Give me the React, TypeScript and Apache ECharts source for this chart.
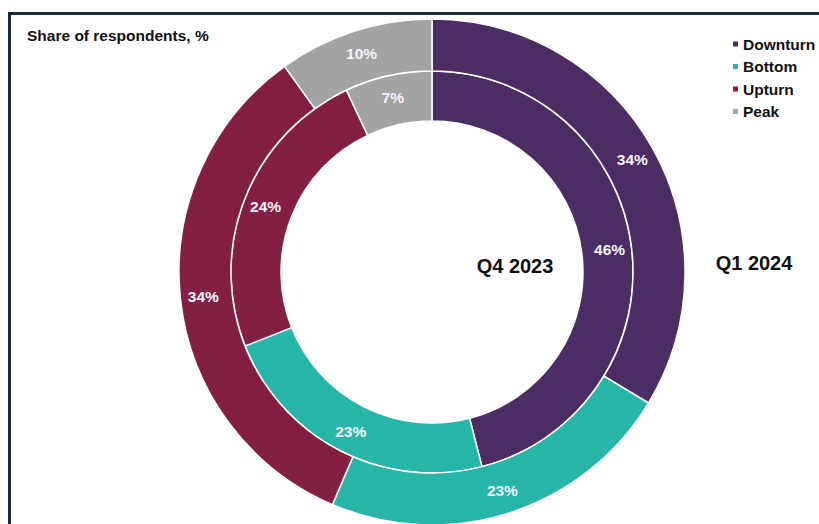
import React, { useEffect, useRef } from "react";
import * as echarts from "echarts";

const categories = ["Downturn", "Bottom", "Upturn", "Peak"];
const colors = ["#4b2d64", "#27b5a8", "#831f43", "#a3a3a3"];
const q4_2023 = [46, 23, 24, 7];
const q1_2024 = [34, 23, 34, 10];
const seriesNames = ["Q4 2023", "Q1 2024"];

const FONT = "'Liberation Sans', Arial, sans-serif";

export default function App() {
  const ref = useRef<HTMLDivElement>(null);
  useEffect(() => {
    if (!ref.current) return;
    const chart = echarts.init(ref.current, null, { renderer: "svg" });
    const mk = (vals: number[]) =>
      categories.map((c, i) => ({
        name: c,
        value: vals[i],
        itemStyle: { color: colors[i] },
      }));
    const label = {
      show: true,
      position: "inside",
      formatter: "{c}%",
      color: "#f4f2fa",
      fontFamily: FONT,
      fontWeight: "bold",
      fontSize: 15.5,
    };
    chart.setOption({
      animation: false,
      legend: {
        orient: "vertical",
        left: 726,
        top: 31,
        icon: "rect",
        itemWidth: 7,
        itemHeight: 7,
        itemGap: 6.5,
        itemWidth: 7,
        data: categories,
        textStyle: { fontFamily: FONT, fontWeight: "bold", fontSize: 15.5, color: "#111", padding: [0, 0, 0, -1] },
      },
      graphic: [
        { type: "rect", shape: { x: 8, y: 12, width: 811, height: 3 }, style: { fill: "#1b2b38" } },
        { type: "rect", shape: { x: 8, y: 12, width: 3, height: 512 }, style: { fill: "#1b2b38" } },
        {
          type: "text",
          left: 27,
          top: 27,
          style: { text: "Share of respondents, %", font: `bold 15.5px ${FONT}`, fill: "#111" },
        },
        {
          type: "text",
          x: 515,
          y: 266,
          style: { text: seriesNames[0], font: `bold 20px ${FONT}`, fill: "#111", align: "center", verticalAlign: "middle" },
        },
        {
          type: "text",
          x: 754,
          y: 263,
          style: { text: seriesNames[1], font: `bold 20px ${FONT}`, fill: "#111", align: "center", verticalAlign: "middle" },
        },
      ],
      series: [
        {
          name: seriesNames[0],
          type: "pie",
          center: [432, 272],
          radius: [151, 201],
          startAngle: 90,
          clockwise: true,
          label,
          labelLine: { show: false },
          itemStyle: { borderColor: "#fff", borderWidth: 1.5 },
          emphasis: { disabled: true },
          data: mk(q4_2023),
        },
        {
          name: seriesNames[1],
          type: "pie",
          center: [432, 272],
          radius: [201, 253],
          startAngle: 90,
          clockwise: true,
          label,
          labelLine: { show: false },
          itemStyle: { borderColor: "#fff", borderWidth: 1.5 },
          emphasis: { disabled: true },
          data: mk(q1_2024),
        },
      ],
    });
    return () => chart.dispose();
  }, []);
  return (
    <div
      ref={ref}
      style={{ position: "absolute", left: 0, top: 0, width: 819, height: 524, background: "#fff" }}
    />
  );
}
